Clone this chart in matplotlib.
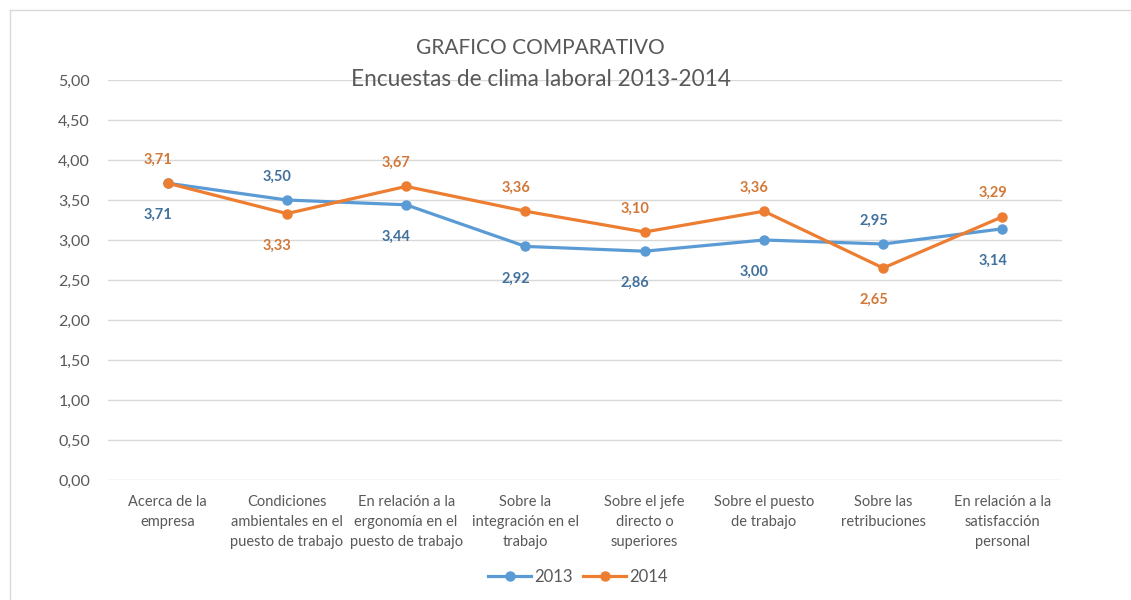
import matplotlib
matplotlib.use("Agg")
import matplotlib.pyplot as plt
from matplotlib.lines import Line2D
import numpy as np

plt.rcParams['font.family'] = ['Lato', 'DejaVu Sans']

# datos
categorias = [
    "Acerca de la\nempresa",
    "Condiciones\nambientales en el\npuesto de trabajo",
    "En relación a la\nergonomía en el\npuesto de trabajo",
    "Sobre la\nintegración en el\ntrabajo",
    "Sobre el jefe\ndirecto o\nsuperiores",
    "Sobre el puesto\nde trabajo",
    "Sobre las\nretribuciones",
    "En relación a la\nsatisfacción\npersonal",
]
valores_2013 = [3.71, 3.50, 3.44, 2.92, 2.86, 3.00, 2.95, 3.14]
valores_2014 = [3.71, 3.33, 3.67, 3.36, 3.10, 3.36, 2.65, 3.29]
yticks = [0, 0.5, 1, 1.5, 2, 2.5, 3, 3.5, 4, 4.5, 5]

AZUL = "#5B9BD5"
NARANJA = "#ED7D31"
AZUL_TXT = "#41719C"
NARANJA_TXT = "#D27838"
GRIS = "#595959"

W, H = 1131, 600
fig = plt.figure(figsize=(W / 100, H / 100), dpi=100)
ax = fig.add_axes([108 / W, 1 - 480 / H, (1062 - 108) / W, 400 / H])

# marco del grafico
fig.add_artist(Line2D([10 / W, 10 / W], [0, 1 - 10 / H], color="#d9d9d9", lw=1))
fig.add_artist(Line2D([10 / W, 1], [1 - 10 / H, 1 - 10 / H], color="#d9d9d9", lw=1))

x = np.arange(len(categorias))
ax.plot(x, valores_2013, color=AZUL, lw=2.3, marker="o", ms=6.5, label="2013", zorder=3)
ax.plot(x, valores_2014, color=NARANJA, lw=2.3, marker="o", ms=6.5, label="2014", zorder=4)

# etiquetas de datos: la serie mayor arriba, la menor abajo
for i in x:
    a, b = valores_2013[i], valores_2014[i]
    arriba_2013 = a > b
    for v, col, arriba in ((a, AZUL_TXT, arriba_2013), (b, NARANJA_TXT, not arriba_2013)):
        dy = 17 if arriba else -23
        ax.annotate(f"{v:.2f}".replace(".", ","), (i, v), xytext=(-7, dy),
                    textcoords="offset points", ha="center", va="center",
                    fontsize=10.5, fontweight="bold", color=col)

ax.set_xlim(-0.5, len(categorias) - 0.5)
ax.set_ylim(0, 5)
ax.set_yticks(yticks)
ax.set_yticklabels([f"{t:.2f}".replace(".", ",") for t in yticks], fontsize=11.5, color=GRIS)
ax.set_xticks(x)
ax.set_xticklabels(categorias, fontsize=10.5, color=GRIS, linespacing=1.55, va="top")
ax.tick_params(axis="both", length=0)
ax.tick_params(axis="y", pad=13)
ax.tick_params(axis="x", pad=11)
ax.grid(axis="y", color="#d9d9d9", lw=1)
ax.set_axisbelow(True)
for s in ax.spines.values():
    s.set_visible(False)

fig.text(540 / W, 1 - 48 / H, "GRAFICO COMPARATIVO", ha="center", va="center",
         fontsize=15, color=GRIS)
fig.text(541 / W, 1 - 79 / H, "Encuestas de clima laboral 2013-2014", ha="center",
         va="center", fontsize=16.3, color=GRIS)

fig.legend(loc="center", bbox_to_anchor=(578 / W, 1 - 577 / H), ncol=2, frameon=False,
           fontsize=12, handlelength=2.6, handletextpad=0.2, columnspacing=0.6,
           borderaxespad=0, borderpad=0, labelcolor=GRIS)

fig.savefig("out.png", dpi=100)
